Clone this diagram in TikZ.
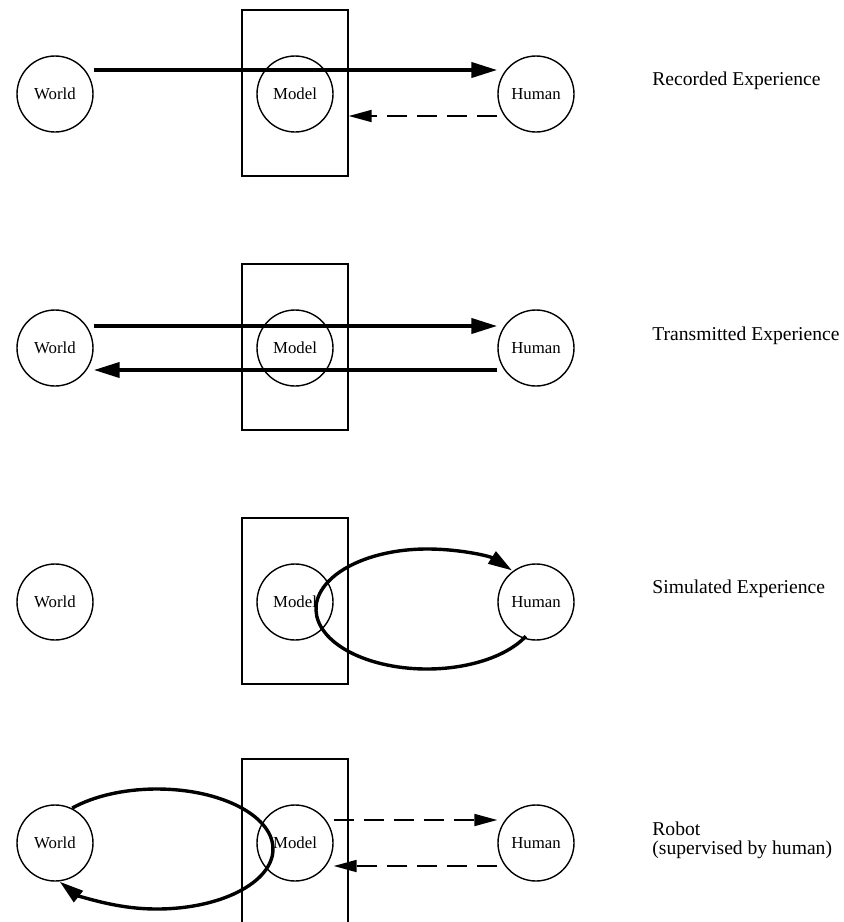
\documentclass[tikz,border=0pt]{standalone}
\usepackage{fontspec}
\setmainfont{Liberation Serif}
\usetikzlibrary{arrows.meta,calc,positioning}

\begin{document}
\begin{tikzpicture}[x=0.5pt,y=0.5pt,
  agent/.style={draw,circle,line width=0.7pt,minimum size=38pt,inner sep=0pt,font=\fontsize{8.4}{9}\selectfont},
  modelbox/.style={draw,line width=0.7pt,minimum width=53pt,minimum height=83pt,inner sep=0pt},
  flow/.style={line width=2pt,-{Triangle[length=13pt,width=7.5pt]}},
  loopflow/.style={line width=1.7pt,-{Triangle[length=12pt,width=7pt]}},
  feedback/.style={line width=0.9pt,dash pattern=on 10pt off 5pt,-{Triangle[length=11.5pt,width=6pt]}},
  caption/.style={anchor=base west,align=left,inner sep=0pt,font=\fontsize{9.8}{9.5}\selectfont}]

\useasboundingbox (0,0) rectangle (843,-922);

 % the four rows: world, model (in its box), human
 \foreach \r/\y in {1/94,2/348,3/602,4/843} {
   \node[modelbox] (b\r) at (295,-\y+1) {};
   \node[agent] (w\r) at (55,-\y) {World};
   \node[agent] (m\r) at (295,-\y) {Model};
   \node[agent] (h\r) at (536,-\y) {Human};
 }

 % recorded
 \draw[flow] ([yshift=12pt]w1.east) -- ([yshift=12pt]h1.west);
 \draw[feedback] ([yshift=-11pt]h1.west) -- ([yshift=-11pt]h1.west -| b1.east);
 \node[caption] (t1) at (652,-85) {Recorded Experience};

 % transmitted
 \draw[flow] ([yshift=11pt]w2.east) -- ([yshift=11pt]h2.west);
 \draw[flow] ([yshift=-11pt]h2.west) -- ([yshift=-11pt]w2.east);
 \node[caption] (t2) at (652,-340) {Transmitted Experience};

 % simulated
 \coordinate (c3) at (427,-609);
 \draw[loopflow] ($(c3)+(-27:55.5pt and 30pt)$) arc[start angle=-27,end angle=-320,x radius=55.5pt,y radius=30pt];
 \node[caption] (t3) at (652,-593) {Simulated Experience};

 % robot
 \coordinate (c4) at (157,-849);
 \draw[loopflow] ($(c4)+(137:58pt and 30pt)$) arc[start angle=137,end angle=-147,x radius=58pt,y radius=30pt];
 \draw[feedback] ([yshift=11.5pt]m4.east) -- ([yshift=11.5pt]h4.west);
 \draw[feedback] ([yshift=-11.5pt]h4.west) -- ([yshift=-11.5pt]m4.east);
 \node[caption] (t4) at (652,-854) {Robot\\(supervised by human)};

\end{tikzpicture}
\end{document}
